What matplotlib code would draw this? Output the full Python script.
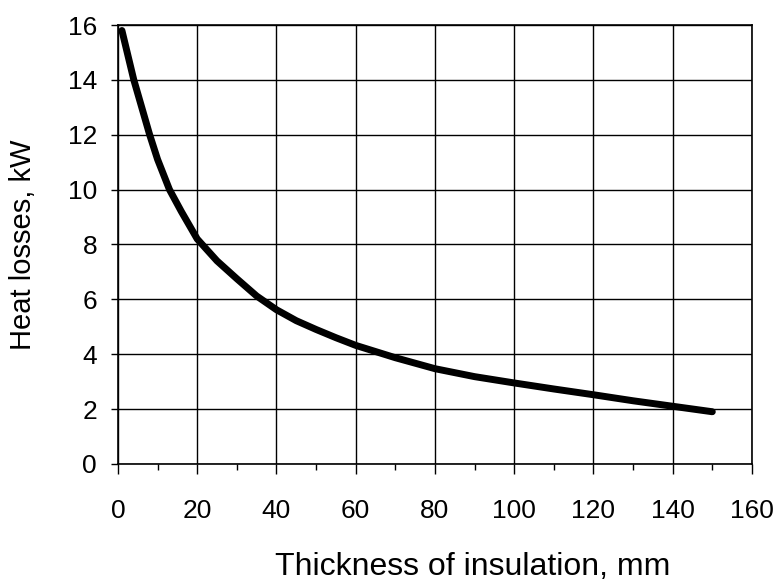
import matplotlib.pyplot as plt
from matplotlib.ticker import MultipleLocator

plt.rcParams['font.family'] = ['Liberation Sans', 'DejaVu Sans']

# values
thickness = [1, 4, 8, 10, 13, 16, 20, 25, 30, 35, 40, 45, 50, 55, 60, 70, 80, 90,
             100, 110, 120, 130, 140, 150]
heat_loss = [15.8, 14.0, 12.0, 11.1, 10.0, 9.2, 8.2, 7.4, 6.75, 6.12, 5.62, 5.22,
             4.9, 4.6, 4.32, 3.87, 3.47, 3.18, 2.95, 2.73, 2.52, 2.3, 2.1, 1.9]

fig = plt.figure(figsize=(7.76, 5.82), dpi=100)
ax = fig.add_axes([0.152, 0.203, 0.817, 0.754])

ax.plot(thickness, heat_loss, color='black', linewidth=5,
        solid_capstyle='round', solid_joinstyle='round')

ax.set_xlim(0, 160)
ax.set_ylim(0, 16)
ax.xaxis.set_major_locator(MultipleLocator(20))
ax.xaxis.set_minor_locator(MultipleLocator(10))
ax.yaxis.set_major_locator(MultipleLocator(2))

ax.grid(True, which='major', color='black', linewidth=1)
for s in ax.spines.values():
    s.set_color('black')
    s.set_linewidth(1.2)

ax.tick_params(axis='x', which='major', direction='out', length=7, width=1,
               labelsize=19, pad=18)
ax.tick_params(axis='x', which='minor', direction='out', length=4, width=1)
ax.tick_params(axis='y', which='major', direction='out', length=5, width=1,
               labelsize=19, pad=10)

ax.set_xlabel("Thickness of insulation, mm", fontsize=23)
ax.xaxis.set_label_coords(0.56, -0.2)
ax.set_ylabel("Heat losses, kW", fontsize=21, labelpad=22)

fig.savefig("out.png", dpi=100)
